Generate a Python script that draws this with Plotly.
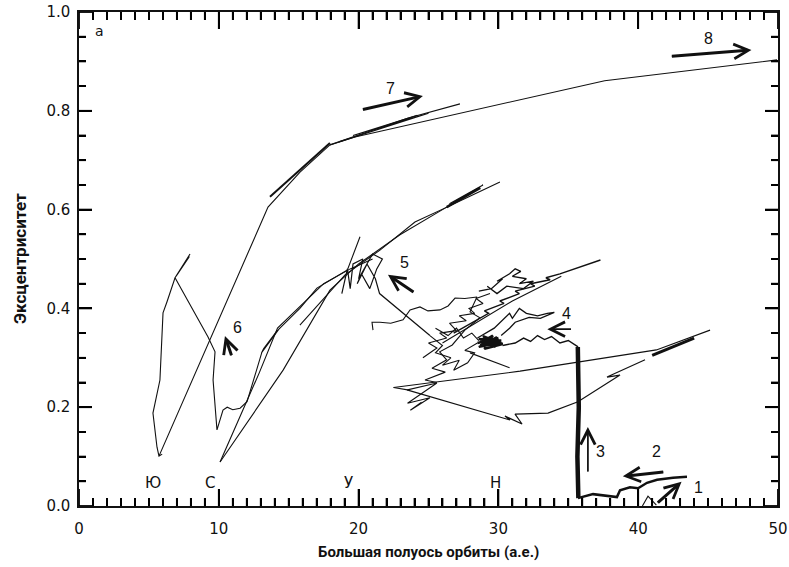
import plotly.graph_objects as go

# ---------------- data (semi-major axis a [AU], eccentricity e) ----------------
yu_a = [7.9, 6.95, 7.94, 6.87, 6.29, 6.01, 5.79, 5.29, 5.58, 5.72, 5.95, 5.72, 13.52, 15.81, 17.95, 19.74, 37.6, 49.93]
yu_e = [0.505, 0.465, 0.510, 0.462, 0.413, 0.391, 0.255, 0.188, 0.119, 0.101, 0.105, 0.101, 0.605, 0.676, 0.731, 0.747, 0.861, 0.903]

s_a = [6.87, 9.23, 9.73, 9.59, 9.87, 10.30, 10.6, 11.0, 11.52, 12.02, 13.09, 13.2, 14.2, 13.05, 14.3, 15.8, 17.02, 19.2, 20.1]
s_e = [0.462, 0.342, 0.312, 0.255, 0.154, 0.194, 0.200, 0.195, 0.198, 0.211, 0.312, 0.318, 0.356, 0.310, 0.358, 0.400, 0.441, 0.478, 0.545]

c1_a = [10.09, 12.9, 14.2, 17.5, 19.4, 21.0]
c1_e = [0.089, 0.270, 0.360, 0.450, 0.480, 0.500]

c2_a = [10.09, 14.6, 17.95, 20.0, 22.96, 26.3, 30.11]
c2_e = [0.089, 0.275, 0.437, 0.490, 0.549, 0.605, 0.656]

c3_a = [15.8, 19.03, 21.53, 24.03, 26.32, 28.9, 26.5, 28.7]
c3_e = [0.366, 0.468, 0.518, 0.575, 0.605, 0.650, 0.612, 0.644]
c3t_a = [26.3, 28.7]
c3t_e = [0.605, 0.644]

up_a = [13.66, 17.95]
up_e = [0.626, 0.735]

t7a_a = [17.95, 23.5, 27.25]
t7a_e = [0.731, 0.785, 0.814]
t7b_a = [18.6, 25.0, 19.6, 24.2]
t7b_e = [0.737, 0.795, 0.750, 0.791]

cl_a = [18.8, 19.2, 19.4, 19.6, 20.3, 20.0, 21.0, 21.7, 21.3, 20.8, 20.2, 19.9, 20.6, 21.2, 21.5, 25.1]
cl_e = [0.43, 0.48, 0.44, 0.49, 0.50, 0.46, 0.51, 0.50, 0.48, 0.44, 0.47, 0.45, 0.49, 0.46, 0.43, 0.345]

w5_a = [21.03, 20.96, 21.53, 22.3, 23.18, 23.68, 24.39, 24.96, 25.82, 26.4, 26.9, 27.6, 28.47, 27.97, 28.68, 27.6, 26.7, 25.8, 26.3, 25.25, 26.2, 24.75, 25.6]
w5_e = [0.356, 0.372, 0.372, 0.370, 0.377, 0.397, 0.403, 0.395, 0.397, 0.405, 0.421, 0.420, 0.423, 0.393, 0.381, 0.356, 0.326, 0.312, 0.296, 0.279, 0.271, 0.255, 0.250]

m1_a = [28.6, 29.5, 30.3, 29.9, 30.8, 31.2, 31.6, 31.0, 32.0, 31.5, 32.5, 31.8, 30.6, 29.9, 29.2]
m1_e = [0.435, 0.44, 0.46, 0.455, 0.47, 0.48, 0.475, 0.465, 0.46, 0.45, 0.455, 0.44, 0.445, 0.43, 0.445]

m2_a = [26.8, 28.0, 29.3, 29.0, 30.4, 30.1, 31.5, 31.2, 32.6, 32.3, 33.7, 33.4, 34.4, 37.3]
m2_e = [0.35, 0.37, 0.39, 0.395, 0.41, 0.415, 0.43, 0.435, 0.445, 0.45, 0.458, 0.462, 0.47, 0.498]
m2b_a = [26.0, 31.0, 34.5]
m2b_e = [0.33, 0.415, 0.465]

m3_a = [28.5, 29.7, 30.8, 31.0, 31.5, 32.0, 32.8, 33.5, 34.0, 33.0, 32.2, 31.2, 30.8, 30.2]
m3_e = [0.34, 0.36, 0.39, 0.38, 0.40, 0.39, 0.385, 0.39, 0.392, 0.38, 0.382, 0.372, 0.36, 0.345]

m4_a = [24.6, 25.6, 25.0, 26.3, 25.8, 27.0, 26.5, 27.7, 27.2, 28.3, 27.9, 28.9, 28.4, 29.4]
m4_e = [0.30, 0.32, 0.33, 0.34, 0.35, 0.355, 0.37, 0.375, 0.385, 0.39, 0.40, 0.41, 0.42, 0.43]

m5_a = [25.5, 26.4, 27.0, 27.5, 28.1, 28.6]
m5_e = [0.36, 0.345, 0.36, 0.34, 0.35, 0.335]

blob_a = [28.5, 30.0, 28.7, 30.2, 28.6, 29.8, 28.9, 30.3, 29.0, 29.6, 28.8, 30.1, 28.6, 29.9]
blob_e = [0.33, 0.34, 0.325, 0.335, 0.338, 0.322, 0.344, 0.328, 0.318, 0.345, 0.332, 0.33, 0.322, 0.342]

tb_a = [30.3, 31.2, 31.8, 32.3, 32.8, 33.3, 33.8, 34.4, 35.0, 35.7]
tb_e = [0.325, 0.33, 0.34, 0.333, 0.345, 0.337, 0.343, 0.33, 0.335, 0.322]

lw_a = [25.1, 26.0, 25.5, 26.6, 26.0, 27.2, 26.8, 27.8, 28.3, 27.6, 28.5]
lw_e = [0.345, 0.325, 0.31, 0.30, 0.285, 0.295, 0.275, 0.29, 0.31, 0.315, 0.33]
ln_a = [27.97, 30.8]
ln_e = [0.31, 0.28]

xz_a = [22.5, 23.5, 25.6, 23.5, 25.1, 23.7, 24.5]
xz_e = [0.24, 0.235, 0.249, 0.208, 0.219, 0.194, 0.21]

r1_a = [22.5, 31.55, 41.3, 45.14]
r1_e = [0.24, 0.273, 0.316, 0.356]
r1t_a = [41.0, 44.0]
r1t_e = [0.305, 0.340]

r2_a = [23.46, 30.83, 30.47, 31.69, 31.19, 33.55, 35.69, 38.70, 37.77, 40.13, 38.13, 40.49]
r2_e = [0.235, 0.174, 0.182, 0.166, 0.186, 0.188, 0.211, 0.265, 0.261, 0.291, 0.267, 0.296]

bar_a = [35.72, 35.65, 35.75, 35.68]
bar_e = [0.016, 0.10, 0.20, 0.322]

bt_a = [35.69, 36.77, 38.48, 38.70, 39.41, 39.99, 40.63, 41.35, 42.49, 43.49]
bt_e = [0.016, 0.024, 0.018, 0.032, 0.038, 0.036, 0.047, 0.053, 0.057, 0.059]
lam_a = [40.3, 40.7, 41.3]
lam_e = [0.0, 0.02, 0.002]

planet_names = ["Ю", "С", "У", "Н"]
planet_a = [5.3, 9.4, 19.3, 29.8]

x_major = [0, 10, 20, 30, 40, 50]
x_minor = [i for i in range(0, 51) if i % 10 != 0]
y_major = [0.0, 0.2, 0.4, 0.6, 0.8, 1.0]
y_minor = [k / 100 for k in range(5, 100, 5) if k % 20 != 0]

X_RANGE = [0, 50]
Y_RANGE = [0, 1.0]

tracks = [
    (yu_a, yu_e, 1.1), (s_a, s_e, 1.1), (c1_a, c1_e, 1.1), (c2_a, c2_e, 1.1),
    (c3_a, c3_e, 1.1), (c3t_a, c3t_e, 2.5), (up_a, up_e, 2.0),
    (t7a_a, t7a_e, 1.1), (t7b_a, t7b_e, 1.2), (cl_a, cl_e, 1.2), (w5_a, w5_e, 1.1),
    (m1_a, m1_e, 1.3), (m2_a, m2_e, 1.4), (m2b_a, m2b_e, 1.1), (m3_a, m3_e, 1.3),
    (m4_a, m4_e, 1.1), (m5_a, m5_e, 1.1),
    (blob_a, blob_e, 2.4), (tb_a, tb_e, 1.4), (lw_a, lw_e, 1.1), (ln_a, ln_e, 1.1),
    (xz_a, xz_e, 1.1), (r1_a, r1_e, 1.1), (r1t_a, r1t_e, 3.0), (r2_a, r2_e, 1.2),
    (bar_a, bar_e, 4.5), (bt_a, bt_e, 2.5), (lam_a, lam_e, 1.1),
]

INK = "#111111"
W, H = 789, 567
ML, MR, MT, MB = 79, 11, 12, 61
plot_w = W - ML - MR
plot_h = H - MT - MB

fig = go.Figure()

# inward tick marks on all four sides as one line trace (lengths in pixels -> axis units)
def px_to_y(p):
    return p * (Y_RANGE[1] - Y_RANGE[0]) / plot_h
def px_to_x(p):
    return p * (X_RANGE[1] - X_RANGE[0]) / plot_w

tick_x, tick_y = [], []
for vals, ln in ((x_major, 17), (x_minor, 8)):
    d = px_to_y(ln)
    for v in vals:
        tick_x += [v, v, None, v, v, None]
        tick_y += [Y_RANGE[0], Y_RANGE[0] + d, None, Y_RANGE[1], Y_RANGE[1] - d, None]
for vals, ln in ((y_major, 13), (y_minor, 7)):
    d = px_to_x(ln)
    for v in vals:
        tick_x += [X_RANGE[0], X_RANGE[0] + d, None, X_RANGE[1], X_RANGE[1] - d, None]
        tick_y += [v, v, None, v, v, None]
fig.add_trace(go.Scatter(x=tick_x, y=tick_y, mode="lines",
                         line=dict(color="#000000", width=1.8, simplify=False),
                         showlegend=False, hoverinfo="skip", connectgaps=False))

for xa, ye, w in tracks:
    fig.add_trace(go.Scatter(x=xa, y=ye, mode="lines",
                             line=dict(color=INK, width=w),
                             showlegend=False, hoverinfo="skip"))

ann = []
# arrows: (tail_x, tail_y, tip_x, tip_y, shaft width, label, label_x, label_y)
arrows = [
    (42.3, 0.910, 48.1, 0.923, 3.0, "8", 45.0, 0.947),
    (20.2, 0.802, 24.6, 0.830, 3.0, "7", 22.3, 0.846),
    (10.94, 0.302, 10.44, 0.344, 3.0, "6", 11.35, 0.362),
    (24.03, 0.431, 22.1, 0.468, 3.0, "5", 23.3, 0.492),
    (35.3, 0.358, 33.5, 0.358, 1.5, "4", 34.9, 0.390),
    (36.4, 0.067, 36.4, 0.160, 1.5, "3", 37.3, 0.110),
    (41.9, 0.069, 38.9, 0.060, 3.0, "2", 41.3, 0.111),
    (41.3, 0.004, 43.1, 0.049, 3.0, "1", 44.3, 0.037),
]
for tx, ty, hx, hy, w, lab, lx, ly in arrows:
    ann.append(dict(x=hx, y=hy, ax=tx, ay=ty, xref="x", yref="y", axref="x", ayref="y",
                    text="", showarrow=True, arrowhead=0, arrowwidth=w,
                    arrowcolor=INK, standoff=4))
    ann.append(dict(x=hx, y=hy, ax=tx, ay=ty, xref="x", yref="y", axref="x", ayref="y",
                    text="", showarrow=True, arrowhead=5, arrowwidth=1.1, arrowsize=2.6,
                    arrowcolor=INK))
    ann.append(dict(x=lx, y=ly, xref="x", yref="y", text=lab, showarrow=False,
                    font=dict(family="Liberation Sans", size=16, color=INK)))

for name, pa in zip(planet_names, planet_a):
    ann.append(dict(x=pa, y=0.047, xref="x", yref="y", text=name, showarrow=False,
                    font=dict(family="DejaVu Sans", size=15, color=INK)))

ann.append(dict(x=1.45, y=0.962, xref="x", yref="y", text="а", showarrow=False,
                font=dict(family="DejaVu Sans", size=14, color=INK)))

ann.append(dict(x=0.5, y=-0.093, xref="paper", yref="paper", text="<b>Большая полуось орбиты (а.е.)</b>",
                showarrow=False, yanchor="middle",
                font=dict(family="Roboto", size=15, color=INK)))
ann.append(dict(x=-0.0844, y=0.5, xref="paper", yref="paper", text="<b>Эксцентриситет</b>",
                showarrow=False, textangle=-90, xanchor="center", yanchor="middle",
                font=dict(family="Roboto", size=17, color=INK)))

tick_font = dict(family="DejaVu Sans", size=15, color=INK)

fig.update_layout(
    template="none",
    width=W, height=H,
    margin=dict(l=ML, r=MR, t=MT, b=MB, autoexpand=False),
    paper_bgcolor="white", plot_bgcolor="white",
    xaxis=dict(range=X_RANGE, tickmode="linear", tick0=0, dtick=10, automargin=False,
               showline=True, linecolor=INK, linewidth=1.5, mirror="ticks",
               ticks="inside", ticklen=17, tickwidth=1.8, tickcolor="#000000",
               minor=dict(tick0=0, dtick=1, ticks="inside", ticklen=8, tickwidth=1.8,
                          tickcolor="#000000", showgrid=False),
               ticklabelstandoff=8,
               showgrid=False, zeroline=False, tickfont=tick_font),
    yaxis=dict(range=Y_RANGE, tickmode="linear", tick0=0, dtick=0.2, tickformat=".1f",
               automargin=False, ticklabelstandoff=4,
               showline=True, linecolor=INK, linewidth=1.5, mirror="ticks",
               ticks="inside", ticklen=13, tickwidth=1.8, tickcolor="#000000",
               minor=dict(tick0=0, dtick=0.05, ticks="inside", ticklen=7, tickwidth=1.8,
                          tickcolor="#000000", showgrid=False),
               showgrid=False, zeroline=False, tickfont=tick_font),
    annotations=ann,
)

fig.write_html("out.html", config={"displayModeBar": False},
               post_script="document.body.style.margin='0';document.body.style.overflow='hidden';")
